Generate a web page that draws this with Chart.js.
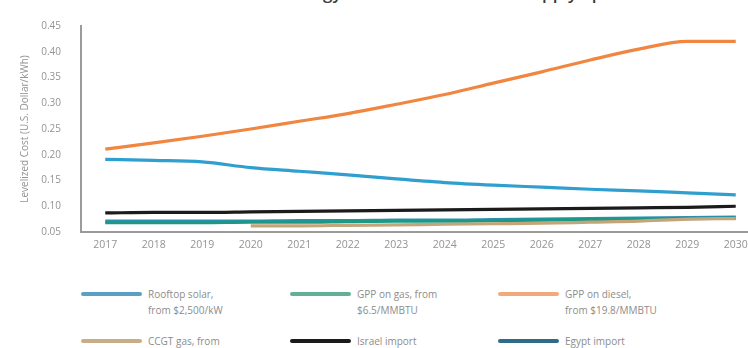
<!DOCTYPE html>
<html>
<head>
<meta charset="utf-8">
<script src="https://cdn.jsdelivr.net/npm/chart.js@4/dist/chart.umd.min.js"></script>
<style>
  html, body { margin: 0; padding: 0; background: #fff; overflow: hidden; width: 748px; height: 348px; }
  #wrap { position: relative; width: 770px; height: 348px; }
  #title { position: absolute; left: 0; top: -18px; white-space: nowrap; font: 600 17px/21px "Open Sans", sans-serif; color: #3a3a3a; }
  #chartBox { position: absolute; left: 0; top: 0; width: 770px; height: 262px; }
  .item { position: absolute; display: flex; align-items: flex-start; font: 10px/16px "Open Sans", sans-serif; color: #8c8c8c; }
  .swatch { width: 61px; height: 4px; border-radius: 2px; margin-top: 6px; margin-right: 6px; flex: none; }
</style>
</head>
<body>
<div id="wrap">
  <div id="title">Estimated levelized cost of energy from other least-cost supply options in the future</div>
  <div id="chartBox"><canvas id="c"></canvas></div>
  <div id="legend"></div>
</div>
<script>
// Years on the x axis
const years = ['2017', '2018', '2019', '2020', '2021', '2022', '2023', '2024', '2025', '2026', '2027', '2028', '2029', '2030'];

// Levelized cost, U.S. Dollar/kWh
const rooftopSolar = [0.191, 0.189, 0.186, 0.175, 0.168, 0.161, 0.153, 0.146, 0.141, 0.137, 0.133, 0.130, 0.126, 0.122];
const gppGas       = [0.068, 0.068, 0.068, 0.069, 0.069, 0.070, 0.071, 0.071, 0.072, 0.073, 0.074, 0.075, 0.076, 0.077];
const gppDiesel    = [0.211, 0.223, 0.236, 0.250, 0.265, 0.280, 0.298, 0.317, 0.339, 0.361, 0.384, 0.405, 0.420, 0.420];
const ccgtGas      = [null, null, null, 0.062, 0.062, 0.063, 0.064, 0.065, 0.066, 0.067, 0.069, 0.071, 0.075, 0.076];
const israelImport = [0.087, 0.088, 0.088, 0.089, 0.090, 0.091, 0.092, 0.093, 0.094, 0.095, 0.096, 0.097, 0.098, 0.100];
const egyptImport  = [0.071, 0.071, 0.071, 0.071, 0.072, 0.072, 0.073, 0.073, 0.074, 0.075, 0.076, 0.077, 0.078, 0.079];

const yTicks = [0.05, 0.10, 0.15, 0.20, 0.25, 0.30, 0.35, 0.40, 0.45];

const seriesNames = [
    ['Rooftop solar,', 'from $2,500/kW'],
    ['GPP on gas, from', '$6.5/MMBTU'],
    ['GPP on diesel,', 'from $19.8/MMBTU'],
    ['CCGT gas, from'],
    ['Israel import'],
    ['Egypt import']
];
const seriesData = [rooftopSolar, gppGas, gppDiesel, ccgtGas, israelImport, egyptImport];
const lineColors = ['#2f9fd0', '#1c9985', '#f0863f', '#c4a47a', '#1b1b1b', '#2d8fb0'];
const legendColors = ['#5b9fc4', '#62b095', '#f1aa7c', '#c8ae88', '#1b1b1b', '#2f6c8a'];
const drawOrder = [3, 4, 1, 2, 5, 6];   // lower = drawn on top

// place the cut-off title so the "g" of "energy" sits where it does in the figure
(function () {
    const t = document.getElementById('title');
    const ctx = document.createElement('canvas').getContext('2d');
    ctx.font = '600 17px "Open Sans"';
    const w = ctx.measureText('Estimated levelized cost of ener').width;
    t.style.left = (323 - w) + 'px';
})();

const chart = new Chart(document.getElementById('c'), {
    type: 'line',
    data: {
        labels: years,
        datasets: seriesData.map((d, i) => ({
            label: seriesNames[i].join(' '),
            data: d,
            borderColor: lineColors[i],
            backgroundColor: lineColors[i],
            borderWidth: 3.2,
            pointRadius: 0,
            cubicInterpolationMode: 'monotone',
            spanGaps: false,
            order: drawOrder[i]
        }))
    },
    options: {
        responsive: true,
        maintainAspectRatio: false,
        animation: false,
        layout: { padding: { top: 16, right: 10, left: 0, bottom: 0 } },
        plugins: { legend: { display: false }, tooltip: { enabled: false } },
        scales: {
            x: {
                offset: true,
                grid: { display: false, drawTicks: false },
                border: { color: '#9b9b9b', width: 2 },
                ticks: { color: '#939393', font: { family: 'Open Sans', size: 10.5 }, padding: 7, maxRotation: 0, autoSkip: false },
                afterFit: s => { s.height = 30; }
            },
            y: {
                min: yTicks[0],
                max: yTicks[yTicks.length - 1],
                afterBuildTicks: s => { s.ticks = yTicks.map(v => ({ value: v })); },
                grid: { display: false, drawTicks: false },
                border: { color: '#9b9b9b', width: 2 },
                ticks: { color: '#939393', font: { family: 'Open Sans', size: 10 }, padding: 20, callback: v => v.toFixed(2) },
                title: {
                    display: true,
                    text: 'Levelized Cost (U.S. Dollar/kWh)',
                    color: '#939393',
                    font: { family: 'Open Sans', size: 10 },
                    padding: { top: 19, bottom: 0 }
                },
                afterFit: s => { s.width = 81; }
            }
        }
    }
});

// legend, 3 columns
const legendCols = [81, 290, 498];
const legendRows = [286, 333];
const legend = document.getElementById('legend');
seriesNames.forEach((name, i) => {
    const el = document.createElement('div');
    el.className = 'item';
    el.style.left = legendCols[i % 3] + 'px';
    el.style.top = legendRows[Math.floor(i / 3)] + 'px';
    el.innerHTML = '<div class="swatch" style="background:' + legendColors[i] + '"></div><div>' + name.join('<br>') + '</div>';
    legend.appendChild(el);
});
</script>
</body>
</html>
